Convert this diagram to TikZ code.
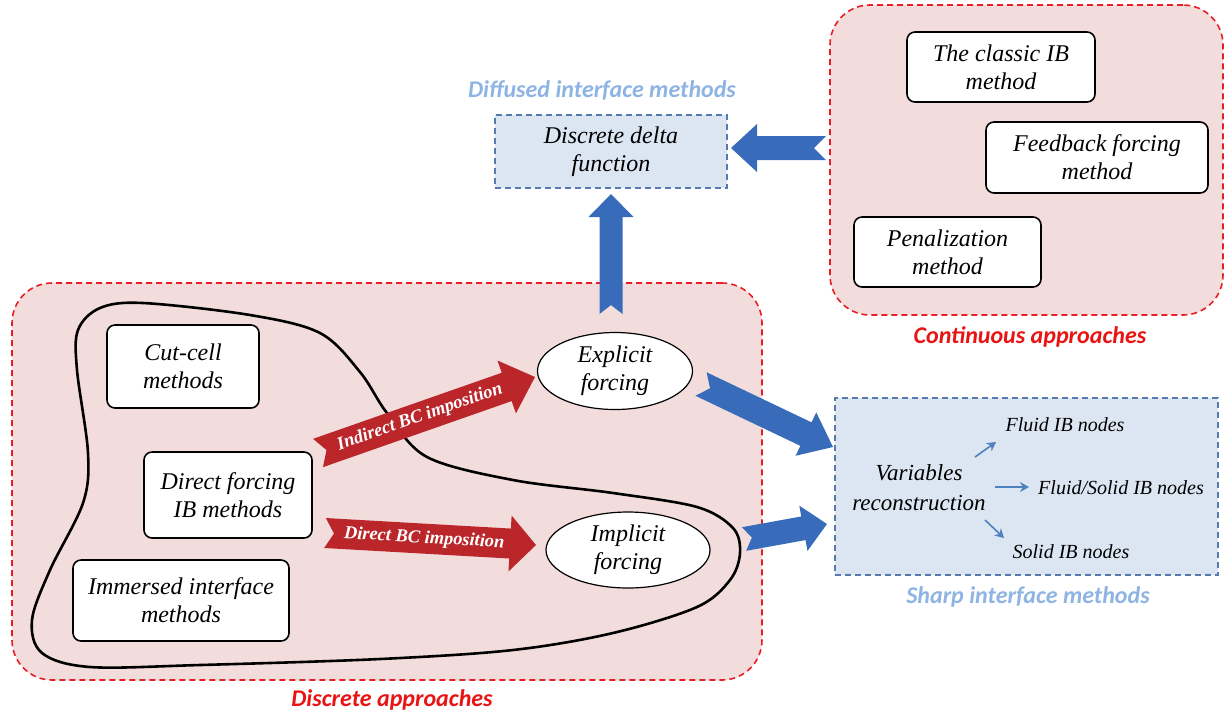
\documentclass[tikz,border=0pt]{standalone}
\usepackage{fontspec}
\setmainfont{Liberation Serif}
\newfontfamily\labfont{Carlito}
\usetikzlibrary{calc,shapes.geometric,arrows.meta}

\definecolor{pinkfill}{RGB}{242,221,220}
\definecolor{reddash}{RGB}{232,30,36}
\definecolor{bluefill}{RGB}{220,230,242}
\definecolor{bluedash}{RGB}{84,122,176}
\definecolor{bluelab}{RGB}{142,180,227}
\definecolor{redlab}{RGB}{232,20,20}
\definecolor{arrowblue}{RGB}{56,108,186}
\definecolor{arrowred}{RGB}{186,38,42}
\definecolor{smallblue}{RGB}{79,129,189}

% start, end, shaft half width, head half width, head length, notch depth, fill colour
\newcommand\fatarrow[7]{%
  \coordinate (hb) at ($(#2)!#5!(#1)$);
  \fill[#7] ($(#1)!#3!90:(#2)$) -- ($(hb)!#3!90:(#2)$) -- ($(hb)!#4!90:(#2)$) -- (#2)
    -- ($(hb)!#4!-90:(#2)$) -- ($(hb)!#3!-90:(#2)$) -- ($(#1)!#3!-90:(#2)$)
    -- ($(#1)!#6!(#2)$) -- cycle;
}

\tikzset{
  region/.style={draw=reddash, line width=0.8pt, dash pattern=on 3pt off 2pt,
    fill=pinkfill, rounded corners=20pt, inner sep=0pt},
  bluebox/.style={draw=bluedash, line width=0.7pt, dash pattern=on 3pt off 2pt,
    fill=bluefill, inner sep=0pt, align=center,
    font=\fontsize{12}{14}\selectfont\itshape},
  method/.style={draw=black, line width=0.8pt, fill=white, rounded corners=4pt,
    align=center, inner sep=0pt, font=\fontsize{12}{14}\selectfont\itshape},
  forcing/.style={ellipse, draw=black, line width=0.6pt, fill=white, align=center,
    inner sep=0pt, font=\fontsize{12}{14}\selectfont\itshape},
  redlabel/.style={text=redlab, font=\labfont\bfseries\itshape\fontsize{12}{14}\selectfont},
  bluelabel/.style={text=bluelab, font=\labfont\bfseries\itshape\fontsize{12}{14}\selectfont},
  arrowtext/.style={text=white, inner sep=0pt, font=\fontsize{9.2}{11}\selectfont\bfseries\itshape},
  nodetext/.style={inner sep=0pt, font=\fontsize{10}{12}\selectfont\itshape},
  vartext/.style={inner sep=0pt, align=center, font=\fontsize{11.5}{15}\selectfont\itshape},
  smallarrow/.style={draw=smallblue, line width=0.8pt, -{Stealth[length=4.5pt,width=5pt]}},
}

\begin{document}
\begin{tikzpicture}[x=0.5pt, y=-0.5pt]
\useasboundingbox (0,0) rectangle (1231,720);

% regions
\node[region, minimum width=375pt, minimum height=198.5pt] (discrete) at (387,481.5) {};
\node[region, minimum width=196.5pt, minimum height=155pt] (continuous) at (1026.5,160) {};
\node[bluebox, minimum width=116pt, minimum height=36.5pt] (delta) at (611,151.5) {Discrete delta\\function};
\node[bluebox, minimum width=191.5pt, minimum height=88.5pt] (sharp) at (1026.5,486.5) {};

% region labels
\node[redlabel] (lcont) at (1030,337) {Continuous approaches};
\node[redlabel] (ldisc) at (392,700) {Discrete approaches};
\node[bluelabel] (ldiff) at (602,90) {Diffused interface methods};
\node[bluelabel] (lsharp) at (1028,597) {Sharp interface methods};

% black closed curve
\draw[line width=1.3pt] plot[smooth cycle, tension=0.55] coordinates {
  (143,303) (250,315) (320,333) (360,372) (387,413) (427,457) (513,480) (613,493)
  (697,507) (733,528) (740,553) (730,580) (697,607) (613,633) (513,650) (380,659)
  (200,665) (90,667) (42,653) (32,620) (50,570) (83,503) (88,453) (77,370)
  (78,330) (100,308)};

% continuous methods
\node[method, minimum width=94pt, minimum height=35pt] (classic) at (1001,67) {The classic IB\\method};
\node[method, minimum width=111pt, minimum height=35.5pt] (feedback) at (1097,157.5) {Feedback forcing\\method};
\node[method, minimum width=93.5pt, minimum height=35pt] (penal) at (947.5,252) {Penalization\\method};

% discrete methods
\node[method, minimum width=76pt, minimum height=41.5pt] (cutcell) at (183,366.5) {Cut-cell\\methods};
\node[method, minimum width=84pt, minimum height=43pt] (direct) at (228,495) {Direct forcing\\IB methods};
\node[method, minimum width=108pt, minimum height=40.5pt] (immersed) at (181,600.5) {Immersed interface\\methods};

% forcing ellipses
\node[forcing, minimum width=77.5pt, minimum height=38.5pt] (explicit) at (615,371) {Explicit\\forcing};
\node[forcing, minimum width=82pt, minimum height=38pt] (implicit) at (628,550) {Implicit\\forcing};

% sharp interface contents
\node[vartext] (var) at (919,488) {Variables\\reconstruction};
\node[nodetext] (fluid) at (1065,425) {Fluid IB nodes};
\node[nodetext] (fluidsolid) at (1121,488) {Fluid/Solid IB nodes};
\node[nodetext] (solid) at (1071,552) {Solid IB nodes};
\coordinate (s1a) at (975,457); \coordinate (s1b) at (996,442);
\coordinate (s2a) at (995,487); \coordinate (s2b) at (1029,487);
\coordinate (s3a) at (985,520); \coordinate (s3b) at (1004,538);
\draw[smallarrow] (s1a) -- (s1b);
\draw[smallarrow] (s2a) -- (s2b);
\draw[smallarrow] (s3a) -- (s3b);

% red arrows
\coordinate (ias) at (318,453); \coordinate (iae) at (535,377);
\coordinate (das) at (325,533); \coordinate (dae) at (536,545);
\fatarrow{ias}{iae}{7.5pt}{14pt}{15pt}{4.5pt}{arrowred}
\fatarrow{das}{dae}{7.5pt}{14pt}{13pt}{4.5pt}{arrowred}
\path (ias) -- node[sloped, pos=0.47, arrowtext] (itxt) {Indirect BC imposition} (iae);
\path (das) -- node[sloped, pos=0.47, arrowtext] (dtxt) {Direct BC imposition} (dae);

% blue arrows
\coordinate (ups) at (611,314); \coordinate (upe) at (611,194);
\coordinate (lfs) at (826,148); \coordinate (lfe) at (731,148);
\coordinate (dgs) at (701,384); \coordinate (dge) at (833,447);
\coordinate (lws) at (744,539); \coordinate (lwe) at (827,524);
\fatarrow{ups}{upe}{5.75pt}{11.25pt}{11.5pt}{4.5pt}{arrowblue}
\fatarrow{lfs}{lfe}{6pt}{12pt}{13pt}{6pt}{arrowblue}
\fatarrow{dgs}{dge}{6.5pt}{12pt}{15pt}{5pt}{arrowblue}
\fatarrow{lws}{lwe}{6pt}{11.5pt}{12pt}{4pt}{arrowblue}
\end{tikzpicture}
\end{document}
